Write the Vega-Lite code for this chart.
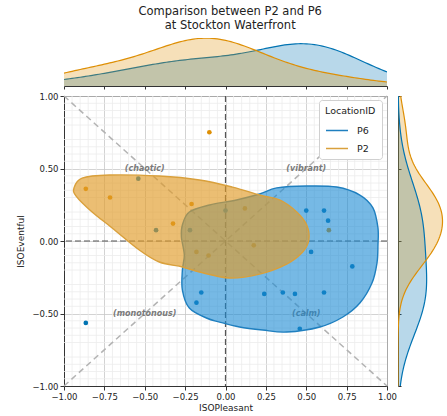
{
  "$schema": "https://vega.github.io/schema/vega-lite/v6.json",
  "padding": {"left": 16, "top": 6, "right": 0, "bottom": 0},
  "autosize": {"type": "pad"},
  "title": {"text": ["Comparison between P2 and P6", "at Stockton Waterfront"], "fontSize": 11.5, "lineHeight": 13.5, "fontWeight": "normal", "font": "DejaVu Sans", "color": "#222", "anchor": "middle", "offset": 7},
  "config": {
    "font": "DejaVu Sans",
    "view": {"stroke": null},
    "axis": {"labelFont": "DejaVu Sans", "titleFont": "DejaVu Sans", "labelColor": "#222", "titleColor": "#222", "domainColor": "#333", "tickColor": "#333", "titleFontWeight": "normal"}
  },
  "datasets": {
    "points": [
      {"LocationID": "P2", "ISOPleasant": -0.10, "ISOEventful": 0.75},
      {"LocationID": "P2", "ISOPleasant": -0.865, "ISOEventful": 0.36},
      {"LocationID": "P2", "ISOPleasant": -0.715, "ISOEventful": 0.30},
      {"LocationID": "P2", "ISOPleasant": -0.21, "ISOEventful": 0.255},
      {"LocationID": "P2", "ISOPleasant": -0.325, "ISOEventful": 0.12},
      {"LocationID": "P2", "ISOPleasant": 0.12, "ISOEventful": 0.225},
      {"LocationID": "P2", "ISOPleasant": 0.64, "ISOEventful": 0.075},
      {"LocationID": "P2", "ISOPleasant": -0.18, "ISOEventful": -0.075},
      {"LocationID": "P2", "ISOPleasant": -0.105, "ISOEventful": -0.10},
      {"LocationID": "P2", "ISOPleasant": 0.175, "ISOEventful": -0.03},
      {"LocationID": "P6", "ISOPleasant": -0.54, "ISOEventful": 0.43},
      {"LocationID": "P6", "ISOPleasant": -0.43, "ISOEventful": 0.075},
      {"LocationID": "P6", "ISOPleasant": -0.22, "ISOEventful": 0.075},
      {"LocationID": "P6", "ISOPleasant": 0.0, "ISOEventful": 0.21},
      {"LocationID": "P6", "ISOPleasant": 0.50, "ISOEventful": 0.21},
      {"LocationID": "P6", "ISOPleasant": 0.61, "ISOEventful": 0.21},
      {"LocationID": "P6", "ISOPleasant": 0.635, "ISOEventful": 0.14},
      {"LocationID": "P6", "ISOPleasant": 0.53, "ISOEventful": -0.075},
      {"LocationID": "P6", "ISOPleasant": 0.785, "ISOEventful": -0.175},
      {"LocationID": "P6", "ISOPleasant": 0.24, "ISOEventful": -0.365},
      {"LocationID": "P6", "ISOPleasant": 0.355, "ISOEventful": -0.355},
      {"LocationID": "P6", "ISOPleasant": 0.43, "ISOEventful": -0.365},
      {"LocationID": "P6", "ISOPleasant": 0.61, "ISOEventful": -0.355},
      {"LocationID": "P6", "ISOPleasant": 0.46, "ISOEventful": -0.605},
      {"LocationID": "P6", "ISOPleasant": -0.15, "ISOEventful": -0.355},
      {"LocationID": "P6", "ISOPleasant": -0.18, "ISOEventful": -0.425},
      {"LocationID": "P6", "ISOPleasant": -0.865, "ISOEventful": -0.565}
    ],
    "contours": [
      {"LocationID": "P2", "i": 0, "ISOPleasant": -0.938, "ISOEventful": 0.366},
      {"LocationID": "P2", "i": 1, "ISOPleasant": -0.888, "ISOEventful": 0.434},
      {"LocationID": "P2", "i": 2, "ISOPleasant": -0.720, "ISOEventful": 0.455},
      {"LocationID": "P2", "i": 3, "ISOPleasant": -0.410, "ISOEventful": 0.448},
      {"LocationID": "P2", "i": 4, "ISOPleasant": -0.161, "ISOEventful": 0.421},
      {"LocationID": "P2", "i": 5, "ISOPleasant": 0.043, "ISOEventful": 0.372},
      {"LocationID": "P2", "i": 6, "ISOPleasant": 0.211, "ISOEventful": 0.317},
      {"LocationID": "P2", "i": 7, "ISOPleasant": 0.335, "ISOEventful": 0.283},
      {"LocationID": "P2", "i": 8, "ISOPleasant": 0.441, "ISOEventful": 0.200},
      {"LocationID": "P2", "i": 9, "ISOPleasant": 0.503, "ISOEventful": 0.110},
      {"LocationID": "P2", "i": 10, "ISOPleasant": 0.516, "ISOEventful": 0.007},
      {"LocationID": "P2", "i": 11, "ISOPleasant": 0.478, "ISOEventful": -0.076},
      {"LocationID": "P2", "i": 12, "ISOPleasant": 0.379, "ISOEventful": -0.159},
      {"LocationID": "P2", "i": 13, "ISOPleasant": 0.211, "ISOEventful": -0.228},
      {"LocationID": "P2", "i": 14, "ISOPleasant": 0.025, "ISOEventful": -0.255},
      {"LocationID": "P2", "i": 15, "ISOPleasant": -0.161, "ISOEventful": -0.214},
      {"LocationID": "P2", "i": 16, "ISOPleasant": -0.267, "ISOEventful": -0.179},
      {"LocationID": "P2", "i": 17, "ISOPleasant": -0.410, "ISOEventful": -0.145},
      {"LocationID": "P2", "i": 18, "ISOPleasant": -0.534, "ISOEventful": -0.062},
      {"LocationID": "P2", "i": 19, "ISOPleasant": -0.702, "ISOEventful": 0.090},
      {"LocationID": "P2", "i": 20, "ISOPleasant": -0.826, "ISOEventful": 0.200},
      {"LocationID": "P2", "i": 21, "ISOPleasant": -0.925, "ISOEventful": 0.310},
      {"LocationID": "P6", "i": 0, "ISOPleasant": -0.267, "ISOEventful": 0.110},
      {"LocationID": "P6", "i": 1, "ISOPleasant": -0.224, "ISOEventful": 0.200},
      {"LocationID": "P6", "i": 2, "ISOPleasant": -0.099, "ISOEventful": 0.248},
      {"LocationID": "P6", "i": 3, "ISOPleasant": 0.068, "ISOEventful": 0.283},
      {"LocationID": "P6", "i": 4, "ISOPleasant": 0.211, "ISOEventful": 0.324},
      {"LocationID": "P6", "i": 5, "ISOPleasant": 0.317, "ISOEventful": 0.366},
      {"LocationID": "P6", "i": 6, "ISOPleasant": 0.503, "ISOEventful": 0.379},
      {"LocationID": "P6", "i": 7, "ISOPleasant": 0.689, "ISOEventful": 0.372},
      {"LocationID": "P6", "i": 8, "ISOPleasant": 0.832, "ISOEventful": 0.317},
      {"LocationID": "P6", "i": 9, "ISOPleasant": 0.913, "ISOEventful": 0.228},
      {"LocationID": "P6", "i": 10, "ISOPleasant": 0.944, "ISOEventful": 0.090},
      {"LocationID": "P6", "i": 11, "ISOPleasant": 0.944, "ISOEventful": -0.028},
      {"LocationID": "P6", "i": 12, "ISOPleasant": 0.938, "ISOEventful": -0.152},
      {"LocationID": "P6", "i": 13, "ISOPleasant": 0.907, "ISOEventful": -0.290},
      {"LocationID": "P6", "i": 14, "ISOPleasant": 0.832, "ISOEventful": -0.428},
      {"LocationID": "P6", "i": 15, "ISOPleasant": 0.727, "ISOEventful": -0.524},
      {"LocationID": "P6", "i": 16, "ISOPleasant": 0.584, "ISOEventful": -0.593},
      {"LocationID": "P6", "i": 17, "ISOPleasant": 0.379, "ISOEventful": -0.628},
      {"LocationID": "P6", "i": 18, "ISOPleasant": 0.230, "ISOEventful": -0.614},
      {"LocationID": "P6", "i": 19, "ISOPleasant": 0.087, "ISOEventful": -0.593},
      {"LocationID": "P6", "i": 20, "ISOPleasant": -0.037, "ISOEventful": -0.559},
      {"LocationID": "P6", "i": 21, "ISOPleasant": -0.118, "ISOEventful": -0.531},
      {"LocationID": "P6", "i": 22, "ISOPleasant": -0.224, "ISOEventful": -0.462},
      {"LocationID": "P6", "i": 23, "ISOPleasant": -0.267, "ISOEventful": -0.338},
      {"LocationID": "P6", "i": 24, "ISOPleasant": -0.267, "ISOEventful": -0.200},
      {"LocationID": "P6", "i": 25, "ISOPleasant": -0.255, "ISOEventful": -0.097},
      {"LocationID": "P6", "i": 26, "ISOPleasant": -0.273, "ISOEventful": 0.028}
    ],
    "diagonals": [
      {"ISOPleasant": -1, "ISOEventful": -1, "ISOPleasant2": 1, "ISOEventful2": 1},
      {"ISOPleasant": -1, "ISOEventful": 1, "ISOPleasant2": 1, "ISOEventful2": -1}
    ],
    "minorgrid": [
      {"m": -0.95}, {"m": -0.9}, {"m": -0.85}, {"m": -0.8}, {"m": -0.7}, {"m": -0.65}, {"m": -0.6}, {"m": -0.55},
      {"m": -0.45}, {"m": -0.4}, {"m": -0.35}, {"m": -0.3}, {"m": -0.2}, {"m": -0.15}, {"m": -0.1}, {"m": -0.05},
      {"m": 0.05}, {"m": 0.1}, {"m": 0.15}, {"m": 0.2}, {"m": 0.3}, {"m": 0.35}, {"m": 0.4}, {"m": 0.45},
      {"m": 0.55}, {"m": 0.6}, {"m": 0.65}, {"m": 0.7}, {"m": 0.8}, {"m": 0.85}, {"m": 0.9}, {"m": 0.95}
    ],
    "quadrants": [
      {"label": "(chaotic)", "ISOPleasant": -0.5, "ISOEventful": 0.5},
      {"label": "(vibrant)", "ISOPleasant": 0.5, "ISOEventful": 0.5},
      {"label": "(monotonous)", "ISOPleasant": -0.5, "ISOEventful": -0.5},
      {"label": "(calm)", "ISOPleasant": 0.5, "ISOEventful": -0.5}
    ]
  },
  "concat": [
    {
      "width": 323,
      "height": 48,
      "data": {"name": "points"},
      "layer": [
        {
          "transform": [{"filter": "datum.LocationID === 'P6'"}, {"density": "ISOPleasant", "groupby": ["LocationID"], "bandwidth": 0.3, "extent": [-1, 1], "steps": 120}],
          "mark": {"type": "area", "fillOpacity": 0.28, "line": {"strokeWidth": 1.2}, "clip": true},
          "encoding": {
            "x": {"field": "value", "type": "quantitative", "scale": {"domain": [-1, 1], "nice": false, "zero": false},
              "axis": {"labels": false, "title": null, "grid": false, "values": [-1,-0.75,-0.5,-0.25,0,0.25,0.5,0.75,1], "tickSize": 3}},
            "y": {"field": "density", "type": "quantitative", "stack": null, "scale": {"domain": [0, 0.84], "nice": false}, "axis": null},
            "color": {"field": "LocationID", "type": "nominal", "scale": {"range": ["#de8f05", "#0173b2"]}, "legend": null}
          }
        },
        {
          "transform": [{"filter": "datum.LocationID === 'P2'"}, {"density": "ISOPleasant", "groupby": ["LocationID"], "bandwidth": 0.3, "extent": [-1, 1], "steps": 120}],
          "mark": {"type": "area", "fillOpacity": 0.28, "line": {"strokeWidth": 1.2}, "clip": true},
          "encoding": {
            "x": {"field": "value", "type": "quantitative"},
            "y": {"field": "density", "type": "quantitative", "stack": null},
            "color": {"field": "LocationID", "type": "nominal", "legend": null}
          }
        }
      ]
    },
    {
      "width": 46,
      "height": 48,
      "data": {"values": []},
      "mark": {"type": "point", "opacity": 0}
    },
    {
      "width": 323,
      "height": 290,
      "view": {"stroke": "#333", "strokeWidth": 1},
      "layer": [
        {
          "data": {"name": "minorgrid"},
          "mark": {"type": "rule", "color": "#ececec", "strokeWidth": 0.8},
          "encoding": {
            "x": {"field": "m", "type": "quantitative", "title": "ISOPleasant", "scale": {"domain": [-1, 1], "nice": false, "zero": false},
              "axis": {"titleFontSize": 9, "titlePadding": 3, "labelFontSize": 8.5, "labelOverlap": false, "labelFlush": false, "labelPadding": 2, "format": ".2f",
                "values": [-1,-0.75,-0.5,-0.25,0,0.25,0.5,0.75,1], "grid": true, "gridColor": "#c8c8c8", "gridWidth": 0.8, "tickSize": 4}}
          }
        },
        {
          "data": {"name": "minorgrid"},
          "mark": {"type": "rule", "color": "#ececec", "strokeWidth": 0.8},
          "encoding": {
            "y": {"field": "m", "type": "quantitative", "title": "ISOEventful", "scale": {"domain": [-1, 1], "nice": false, "zero": false},
              "axis": {"titleFontSize": 9, "titlePadding": 6, "labelFontSize": 8.5, "labelOverlap": false, "labelFlush": false, "labelPadding": 2, "format": ".2f",
                "values": [-1,-0.75,-0.5,-0.25,0,0.25,0.5,0.75,1], "grid": true, "gridColor": "#c8c8c8", "gridWidth": 0.8, "tickSize": 4}}
          }
        },
        {
          "data": {"name": "diagonals"},
          "mark": {"type": "rule", "color": "#b3b3b3", "strokeWidth": 1.5, "strokeDash": [6, 4]},
          "encoding": {
            "x": {"field": "ISOPleasant", "type": "quantitative", "title": "ISOPleasant"},
            "y": {"field": "ISOEventful", "type": "quantitative", "title": "ISOEventful"},
            "x2": {"field": "ISOPleasant2"},
            "y2": {"field": "ISOEventful2"}
          }
        },
        {
          "data": {"values": [{"v": 0}]},
          "mark": {"type": "rule", "color": "#555555", "strokeWidth": 1.2, "strokeDash": [6, 3]},
          "encoding": {"x": {"field": "v", "type": "quantitative", "title": "ISOPleasant"}}
        },
        {
          "data": {"values": [{"v": 0}]},
          "mark": {"type": "rule", "color": "#555555", "strokeWidth": 1.2, "strokeDash": [6, 3]},
          "encoding": {"y": {"field": "v", "type": "quantitative", "title": "ISOEventful"}}
        },
        {
          "data": {"name": "points"},
          "mark": {"type": "circle", "size": 22, "opacity": 1},
          "encoding": {
            "x": {"field": "ISOPleasant", "type": "quantitative", "title": "ISOPleasant"},
            "y": {"field": "ISOEventful", "type": "quantitative", "title": "ISOEventful"},
            "color": {"field": "LocationID", "type": "nominal", "legend": null}
          }
        },
        {
          "data": {"name": "quadrants"},
          "mark": {"type": "text", "fontStyle": "italic", "fontWeight": "bold", "fontSize": 8, "color": "#7a7a7a"},
          "encoding": {
            "x": {"field": "ISOPleasant", "type": "quantitative", "title": "ISOPleasant"},
            "y": {"field": "ISOEventful", "type": "quantitative", "title": "ISOEventful"},
            "text": {"field": "label"}
          }
        },
        {
          "data": {"name": "contours"},
          "transform": [{"filter": "datum.LocationID === 'P6'"}],
          "mark": {"type": "line", "interpolate": "cardinal-closed", "fill": "#1a8ad4", "fillOpacity": 0.6, "strokeWidth": 1.4},
          "encoding": {
            "x": {"field": "ISOPleasant", "type": "quantitative", "title": "ISOPleasant"},
            "y": {"field": "ISOEventful", "type": "quantitative", "title": "ISOEventful"},
            "order": {"field": "i", "type": "quantitative"},
            "stroke": {"field": "LocationID", "type": "nominal", "scale": {"domain": ["P6", "P2"], "range": ["#1f7fbf", "#d9a03c"]},
              "legend": {"title": "LocationID", "orient": "none", "legendX": 255, "legendY": 62, "zindex": 5, "symbolType": "stroke", "symbolStrokeWidth": 1.5, "symbolSize": 484, "labelOffset": 8,
                "labelFontSize": 9.5, "titleFontSize": 9.5, "titleFontWeight": "normal", "labelColor": "#222", "titleColor": "#222", "fillColor": "white", "strokeColor": "#d0d0d0", "cornerRadius": 3, "padding": 6, "rowPadding": 1, "titlePadding": 3}}
          }
        },
        {
          "data": {"name": "contours"},
          "transform": [{"filter": "datum.LocationID === 'P2'"}],
          "mark": {"type": "line", "interpolate": "cardinal-closed", "fill": "#e19b28", "fillOpacity": 0.65, "strokeWidth": 1.4},
          "encoding": {
            "x": {"field": "ISOPleasant", "type": "quantitative", "title": "ISOPleasant"},
            "y": {"field": "ISOEventful", "type": "quantitative", "title": "ISOEventful"},
            "order": {"field": "i", "type": "quantitative"},
            "stroke": {"field": "LocationID", "type": "nominal", "scale": {"domain": ["P6", "P2"], "range": ["#1f7fbf", "#d9a03c"]},
              "legend": {"title": "LocationID", "orient": "none", "legendX": 255, "legendY": 62, "zindex": 5, "symbolType": "stroke", "symbolStrokeWidth": 1.5, "symbolSize": 484, "labelOffset": 8,
                "labelFontSize": 9.5, "titleFontSize": 9.5, "titleFontWeight": "normal", "labelColor": "#222", "titleColor": "#222", "fillColor": "white", "strokeColor": "#d0d0d0", "cornerRadius": 3, "padding": 6, "rowPadding": 1, "titlePadding": 3}}
          }
        }
      ]
    },
    {
      "width": 46,
      "height": 290,
      "data": {"name": "points"},
      "layer": [
        {
          "transform": [{"filter": "datum.LocationID === 'P6'"}, {"density": "ISOEventful", "groupby": ["LocationID"], "bandwidth": 0.25, "extent": [-1, 1], "steps": 120}],
          "mark": {"type": "area", "orient": "horizontal", "fillOpacity": 0.28, "clip": true},
          "encoding": {
            "y": {"field": "value", "type": "quantitative", "scale": {"domain": [-1, 1], "nice": false, "zero": false},
              "axis": {"labels": false, "title": null, "grid": false, "values": [-1,-0.75,-0.5,-0.25,0,0.25,0.5,0.75,1], "tickSize": -3}},
            "x": {"field": "density", "type": "quantitative", "stack": null, "scale": {"domain": [0, 1.45], "nice": false}, "axis": null},
            "color": {"field": "LocationID", "type": "nominal", "legend": null}
          }
        },
        {
          "transform": [{"filter": "datum.LocationID === 'P2'"}, {"density": "ISOEventful", "groupby": ["LocationID"], "bandwidth": 0.18, "extent": [-1, 1], "steps": 120}],
          "mark": {"type": "area", "orient": "horizontal", "fillOpacity": 0.28, "clip": true},
          "encoding": {
            "y": {"field": "value", "type": "quantitative"},
            "x": {"field": "density", "type": "quantitative", "stack": null},
            "color": {"field": "LocationID", "type": "nominal", "legend": null}
          }
        },
        {
          "transform": [{"filter": "datum.LocationID === 'P6'"}, {"density": "ISOEventful", "groupby": ["LocationID"], "bandwidth": 0.25, "extent": [-1, 1], "steps": 120}],
          "mark": {"type": "line", "orient": "horizontal", "strokeWidth": 1.2, "clip": true},
          "encoding": {
            "y": {"field": "value", "type": "quantitative"},
            "x": {"field": "density", "type": "quantitative"},
            "order": {"field": "value", "type": "quantitative"},
            "color": {"field": "LocationID", "type": "nominal", "legend": null}
          }
        },
        {
          "transform": [{"filter": "datum.LocationID === 'P2'"}, {"density": "ISOEventful", "groupby": ["LocationID"], "bandwidth": 0.18, "extent": [-1, 1], "steps": 120}],
          "mark": {"type": "line", "orient": "horizontal", "strokeWidth": 1.2, "clip": true},
          "encoding": {
            "y": {"field": "value", "type": "quantitative"},
            "x": {"field": "density", "type": "quantitative"},
            "order": {"field": "value", "type": "quantitative"},
            "color": {"field": "LocationID", "type": "nominal", "legend": null}
          }
        }
      ]
    }
  ],
  "columns": 2,
  "spacing": {"row": 1, "column": 0}
}
